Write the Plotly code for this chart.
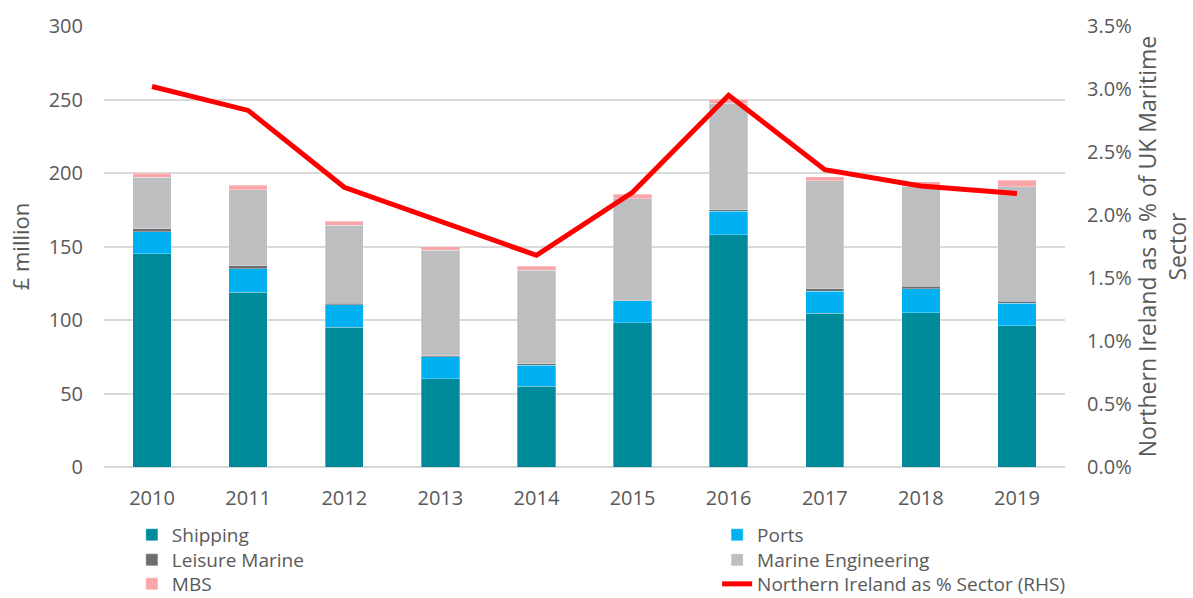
import plotly.graph_objects as go

years = ["2010", "2011", "2012", "2013", "2014", "2015", "2016", "2017", "2018", "2019"]
shipping = [145, 119, 95, 60, 55, 98, 158, 104.5, 105, 96]
ports = [15, 16, 15.4, 15, 14.3, 15, 16, 15, 16.3, 15.3]
leisure = [2, 2, 0.9, 0.6, 0.9, 0.5, 0.9, 1.6, 1.6, 1.5]
marine_eng = [35, 51.5, 53, 71.7, 63.5, 69, 72.6, 73.5, 68, 77.8]
mbs = [2.7, 3.2, 3, 2.7, 2.9, 3, 2.7, 2.9, 3.2, 4.5]
ni_share = [3.02, 2.83, 2.22, 1.95, 1.68, 2.18, 2.95, 2.36, 2.23, 2.17]

left_ticks = [0, 50, 100, 150, 200, 250, 300]
right_ticks = [0, 0.5, 1.0, 1.5, 2.0, 2.5, 3.0, 3.5]
right_labels = [f"{v:.1f}%" for v in right_ticks]

FONT = "Open Sans, Noto Sans, sans-serif"
GREY = "#595959"

fig = go.Figure()
series = [
    ("Shipping", shipping, "#008B9B", "legend"),
    ("Ports", ports, "#00B0F0", "legend2"),
    ("Leisure Marine", leisure, "#6D6E71", "legend3"),
    ("Marine Engineering", marine_eng, "#BDBEC0", "legend4"),
    ("MBS", mbs, "#F8A6A9", "legend5"),
]
for name, vals, col, lg in series:
    fig.add_trace(go.Bar(
        x=years, y=vals, name=name, legend=lg, showlegend=True,
        marker=dict(color=col, line=dict(color="rgba(255,255,255,0.6)", width=0.5)),
        width=0.4,
    ))

fig.add_trace(go.Scatter(
    x=years, y=ni_share, name="Northern Ireland as % Sector (RHS)", legend="legend6",
    showlegend=True,
    mode="lines", line=dict(color="#FF0000", width=5),
    yaxis="y2",
))

def lg(x, y):
    return dict(
        x=x, y=y, orientation="v", yanchor="middle", xanchor="left",
        font=dict(size=19, color=GREY), tracegroupgap=0,
        bgcolor="rgba(0,0,0,0)", visible=True,
    )

col1, col2 = 0.029, 0.638
row1, row2, row3 = -0.154, -0.2109, -0.2653

fig.update_layout(
    barmode="stack",
    showlegend=True,
    width=1193, height=598,
    margin=dict(l=104, r=128, t=26, b=131, autoexpand=False),
    plot_bgcolor="white", paper_bgcolor="white",
    font=dict(family=FONT, size=20, color=GREY),
    xaxis=dict(
        showgrid=False, showline=False, ticks="",
        tickfont=dict(size=20, color=GREY),
        ticklabelstandoff=17,
    ),
    yaxis=dict(
        range=[0, 300], tickvals=left_ticks,
        showgrid=True, gridcolor="#D9D9D9", gridwidth=1.5,
        zeroline=True, zerolinecolor="#D9D9D9", zerolinewidth=1.5,
        title=dict(text="£ million", font=dict(size=22, color=GREY), standoff=12),
        tickfont=dict(size=20, color=GREY),
        ticklabelstandoff=20,
    ),
    yaxis2=dict(
        overlaying="y", side="right",
        range=[0, 3.5], tickvals=right_ticks, ticktext=right_labels,
        showgrid=False, zeroline=False,
        title=dict(text="Northern Ireland as a % of UK Maritime<br>Sector",
                   font=dict(size=23, color=GREY), standoff=13),
        tickfont=dict(size=20, color=GREY),
        ticklabelstandoff=21,
    ),
    legend=lg(col1, row1),
    legend2=lg(col2, row1),
    legend3=lg(col1, row2),
    legend4=lg(col2, row2),
    legend5=lg(col1, row3),
    legend6=lg(col2, row3),
)

fig.write_html("out.html", config={"displayModeBar": False},
               post_script="document.body.style.margin='0';")
